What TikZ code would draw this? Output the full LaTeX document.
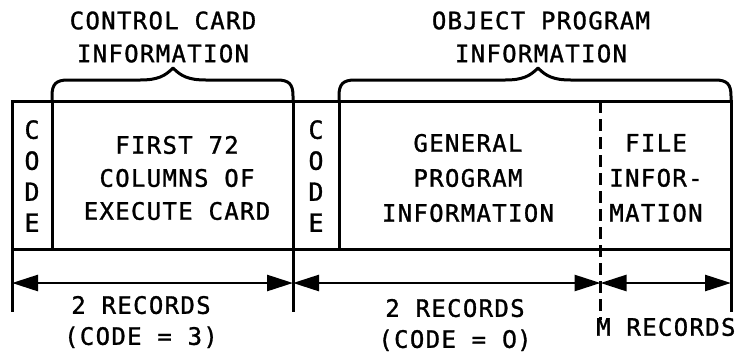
\documentclass[tikz,border=0pt]{standalone}
\usepackage{fontspec}
\setmainfont[LetterSpace=5.5,FakeBold=1.2]{DejaVu Sans Mono}
\newfontfamily\zerofont[LetterSpace=5.5,FakeBold=1.2]{DejaVu Sans}
\usetikzlibrary{arrows.meta}
\newcommand{\zro}{{\zerofont 0}}
\begin{document}
\begin{tikzpicture}[x=1pt,y=-1pt,
  frame/.style={line width=3pt},
  lbl/.style={font=\fontsize{24pt}{33pt}\selectfont, align=center, inner sep=0pt},
  codecol/.style={lbl, font=\fontsize{25pt}{31pt}\selectfont},
  dim/.style={line width=2.6pt, {Triangle[length=26pt,width=16pt]}-{Triangle[length=26pt,width=16pt]}},
  divider/.style={line width=3.2pt, dash pattern=on 12pt off 6pt},
  brace/.style={line width=3pt, line join=round, line cap=round}]
\useasboundingbox (0,0) rectangle (739,357);

% frame corners and dividers
\coordinate (tl) at (12,101);
\coordinate (br) at (731,249);
\coordinate (c1t) at (52,101);  \coordinate (c1b) at (52,249);
\coordinate (m1t) at (293,101); \coordinate (m1b) at (293,312);
\coordinate (c2t) at (339,101); \coordinate (c2b) at (339,249);
\coordinate (dt) at (600.5,101);  \coordinate (db) at (600.5,320);
\coordinate (lb) at (12,249);   \coordinate (lx) at (12,312);
\coordinate (rb) at (731,249);  \coordinate (rx) at (731,312);
% dimension line stops
\coordinate (aL) at (12,283);
\coordinate (aM) at (293,283);
\coordinate (aD) at (600.5,283);
\coordinate (aR) at (731,283);

\draw[frame] (tl) rectangle (br);
\draw[frame] (c1t) -- (c1b);
\draw[frame] (m1t) -- (m1b);
\draw[frame] (c2t) -- (c2b);
\draw[frame] (lb) -- (lx);
\draw[frame] (rb) -- (rx);
\draw[divider] (dt) -- (db);

\draw[dim] (aL) -- (aM);
\draw[dim] (aM) -- (aD);
\draw[dim] (aD) -- (aR);

% braces
\draw[brace] (c1t) -- (52,96) .. controls (52,84) and (56,80) .. (68,80)
  -- (140,80) .. controls (158,80) and (165,76) .. (173,68)
  .. controls (181,76) and (188,80) .. (206,80)
  -- (277,80) .. controls (289,80) and (293,84) .. (293,96) -- (m1t);
\draw[brace] (c2t) -- (339,96) .. controls (339,84) and (343,80) .. (355,80)
  -- (505,80) .. controls (523,80) and (530,76) .. (538,68)
  .. controls (546,76) and (553,80) .. (571,80)
  -- (715,80) .. controls (727,80) and (731,84) .. (731,96) -- (731,101);

% texts
\node[lbl] (t1) at (163,37) {CONTROL CARD\\INFORMATION};
\node[lbl] (t2) at (541,37) {OBJECT PROGRAM\\INFORMATION};
\node[codecol] (code1) at (32,176) {C\\O\\D\\E};
\node[lbl] (ctrl) at (177,178) {FIRST 72\\COLUMNS OF\\EXECUTE CARD};
\node[codecol] (code2) at (316,176) {C\\O\\D\\E};
\node[lbl, font=\fontsize{24pt}{35pt}\selectfont] (gen) at (468,178) {GENERAL\\PROGRAM\\INFORMATION};
\node[lbl, font=\fontsize{24pt}{35pt}\selectfont] (file) at (656,178) {FILE\\INFOR-\\MATION};
\node[lbl, font=\fontsize{24pt}{31pt}\selectfont] (r1) at (141,322) {2 RECORDS\\(CODE = 3)};
\node[lbl, font=\fontsize{24pt}{31pt}\selectfont] (r2) at (455,325) {2 RECORDS\\(CODE = \zro)};
\node[lbl, anchor=west] (r3) at (596,327) {M RECORDS};
\end{tikzpicture}
\end{document}
